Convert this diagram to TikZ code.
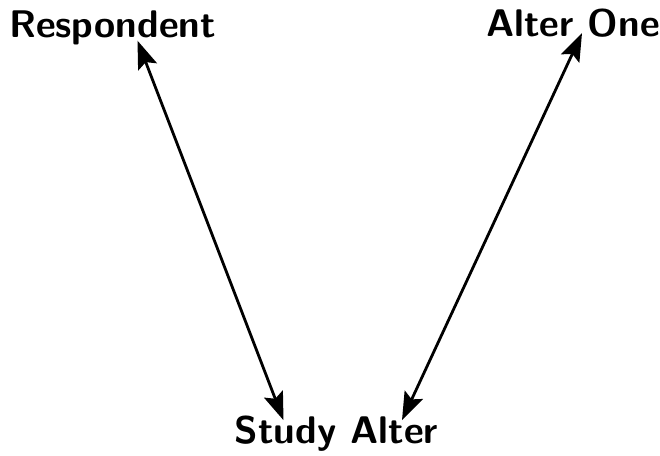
\documentclass[tikz,border=0pt]{standalone}
\usepackage{tikz}
\usetikzlibrary{calc,arrows.meta,positioning}
\tikzset{
    actor/.style={inner sep=0pt, anchor=base, font=\fontsize{38.5}{42}\selectfont\sffamily\bfseries},
    tie/.style={{Stealth[length=28pt,width=20pt,inset=5pt]}-{Stealth[length=28pt,width=20pt,inset=5pt]}, line width=2.8pt}
}
\begin{document}
\begin{tikzpicture}[x=1pt,y=1pt]
\useasboundingbox (0,0) rectangle (660,455);

% the three people
\node[actor] (resp) at (112.5,417) {Respondent};
\node[actor] (alter1) at (573,418) {Alter One};
\node[actor] (study) at (336.5,12) {Study Alter};

% ties to the study alter
\draw[tie] ($(resp.south)+(25,5)$) -- ($(study.north)+(-53,-5)$);
\draw[tie] ($(alter1.south)+(9,5)$) -- ($(study.north)+(65.5,-5)$);

\end{tikzpicture}
\end{document}
